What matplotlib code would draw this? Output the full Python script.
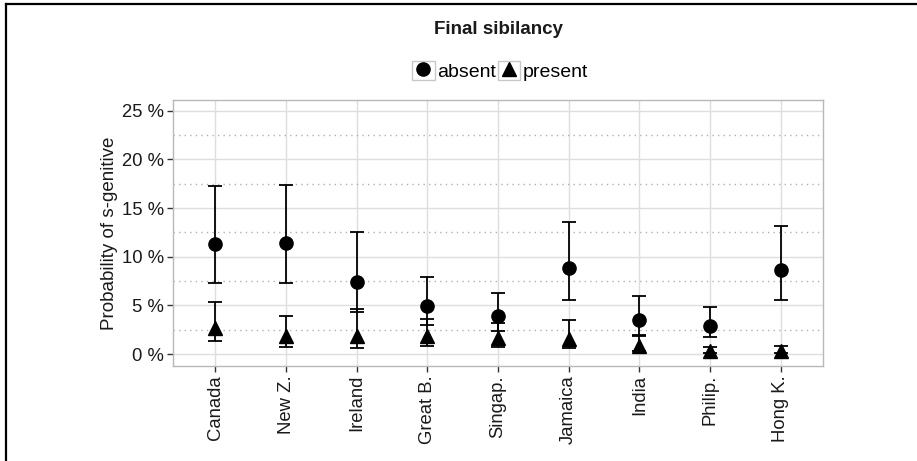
import matplotlib
matplotlib.use("Agg")
import matplotlib.pyplot as plt
import numpy as np
from matplotlib.patches import Rectangle
from matplotlib.lines import Line2D
from matplotlib.legend_handler import HandlerLine2D

# ---- data ----
categories = ["Canada", "New Z.", "Ireland", "Great B.", "Singap.",
              "Jamaica", "India", "Philip.", "Hong K."]
absent_mid = [11.3, 11.4, 7.4, 4.9, 3.9, 8.8, 3.45, 2.9, 8.6]
absent_lo = [7.3, 7.3, 4.3, 3.0, 2.4, 5.6, 1.95, 1.7, 5.5]
absent_hi = [17.3, 17.4, 12.5, 7.9, 6.3, 13.6, 6.0, 4.8, 13.2]
present_mid = [2.7, 1.85, 1.85, 1.85, 1.6, 1.5, 0.8, 0.35, 0.3]
present_lo = [1.3, 0.75, 0.6, 0.8, 0.75, 0.6, 0.3, 0.1, 0.1]
present_hi = [5.3, 3.95, 4.6, 3.6, 3.15, 3.45, 1.9, 0.75, 0.8]
y_ticks = [0, 5, 10, 15, 20, 25]
y_ticklabels = ["0 %", "5 %", "10 %", "15 %", "20 %", "25 %"]
y_minor = [2.5, 7.5, 12.5, 17.5, 22.5]
series_names = ["absent", "present"]
title = "Final sibilancy"
ylabel = "Probability of s-genitive"

plt.rcParams['font.family'] = ['Liberation Sans', 'DejaVu Sans']

fig = plt.figure(figsize=(9.17, 4.61), dpi=100)
ax = fig.add_axes([173/917, 1-366/461, 650/917, 266/461])

x = np.arange(len(categories))

def draw_series(mid, lo, hi, marker, ms, label):
    mid = np.array(mid); lo = np.array(lo); hi = np.array(hi)
    ax.errorbar(x, mid, yerr=[mid - lo, hi - mid], fmt='none',
                ecolor='black', elinewidth=1.3, capsize=5.2, capthick=1.3, zorder=3)
    ax.plot(x, mid, linestyle='none', marker=marker, markersize=ms,
            color='black', zorder=4, label=label)

draw_series(absent_mid, absent_lo, absent_hi, 'o', 9.5, series_names[0])
draw_series(present_mid, present_lo, present_hi, '^', 10.5, series_names[1])

ax.set_xlim(-0.6, len(categories) - 0.4)
ax.set_ylim(-1.23, 26.1)
ax.set_xticks(x)
ax.set_xticklabels(categories, rotation=90, fontsize=13.3, color='#1a1a1a')
ax.set_yticks(y_ticks)
ax.set_yticklabels(y_ticklabels, fontsize=13.3, color='#1a1a1a')
ax.set_yticks(y_minor, minor=True)
ax.tick_params(axis='both', which='major', length=4, width=1, color='#333333', pad=2.5)
ax.tick_params(axis='y', which='minor', length=0)

ax.grid(True, axis='y', which='major', color='#dedede', linewidth=1.0, zorder=0)
ax.grid(True, axis='x', which='major', color='#dedede', linewidth=1.0, zorder=0)
ax.grid(True, axis='y', which='minor', color='#b0b0b0', linewidth=1.0,
        linestyle=(0, (1, 3)), zorder=0)
ax.set_axisbelow(True)
for s in ax.spines.values():
    s.set_color('#b8b8b8')
    s.set_linewidth(1.0)

ax.set_ylabel(ylabel, fontsize=13.5, color='#1a1a1a', labelpad=3)

fig.text(498/917, 1-29/461, title, ha='center', va='center',
         fontsize=13.5, fontweight='bold', color='#1a1a1a')


class BoxedHandler(HandlerLine2D):
    def create_artists(self, legend, orig_handle, xdescent, ydescent,
                       width, height, fontsize, trans):
        arts = super().create_artists(legend, orig_handle, xdescent, ydescent,
                                      width, height, fontsize, trans)
        rect = Rectangle((-xdescent, -ydescent), width, height,
                         facecolor='white', edgecolor='#c8c8c8',
                         linewidth=1.0, transform=trans)
        return [rect] + list(arts)


handles, labels = ax.get_legend_handles_labels()
leg = fig.legend(handles, labels, loc='center', bbox_to_anchor=(500/917, 1-71/461),
                 ncol=2, frameon=False, fontsize=14, numpoints=1,
                 handlelength=1.15, handleheight=1.15, handletextpad=0.12,
                 columnspacing=0.1, borderpad=0, borderaxespad=0,
                 handler_map={Line2D: BoxedHandler()})

# outer figure border (top and left)
fig.add_artist(Line2D([5.5/917, 5.5/917], [0, 1-4.5/461], transform=fig.transFigure,
                      color='black', linewidth=1.6))
fig.add_artist(Line2D([5.5/917, 1], [1-4.5/461, 1-4.5/461], transform=fig.transFigure,
                      color='black', linewidth=1.6))

fig.savefig("out.png", dpi=100)
